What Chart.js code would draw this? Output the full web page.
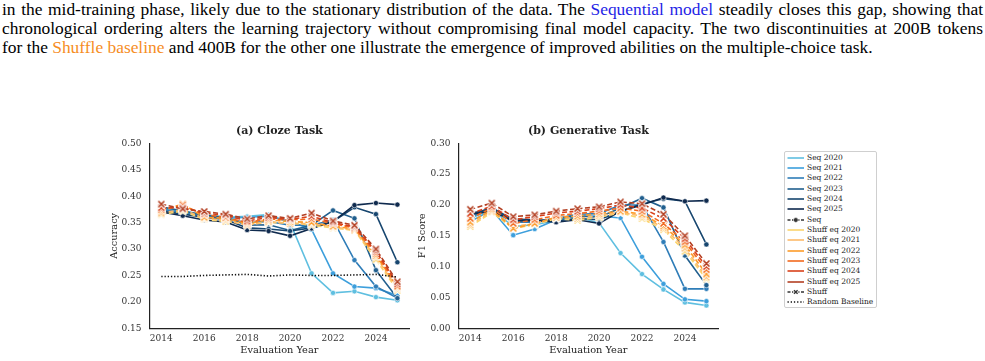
<!DOCTYPE html>
<html>
<head>
<meta charset="utf-8">
<script src="https://cdn.jsdelivr.net/npm/chart.js@4.4.0/dist/chart.umd.min.js"></script>
<style>
body { margin: 0; width: 985px; height: 361px; background: #fff; position: relative; overflow: hidden; }
.txt { position: absolute; left: 2px; font-family: 'Liberation Serif'; font-size: 17.4px; line-height: 19px; color: #000; white-space: nowrap; }
.blue { color: #1f1fe6; }
.orange { color: #f68d1f; }
.box { position: absolute; }
#legend { position: absolute; left: 784px; top: 151px; width: 91px; height: 155px; border: 1px solid #cfcfcf; border-radius: 2px; background: #fff; font-family: 'DejaVu Serif'; font-size: 7.5px; color: #222; }
#legend .row { position: absolute; left: 2px; height: 10px; white-space: nowrap; }
#legend svg { position: absolute; left: 0; top: 0; }
#legend span { position: absolute; left: 20px; top: 0; line-height: 10px; }
</style>
</head>
<body>
<div class="txt" id="l1" style="top:0px">in the mid-training phase, likely due to the stationary distribution of the data. The <span class="blue">Sequential model</span> steadily closes this gap, showing that</div>
<div class="txt" id="l2" style="top:19px">chronological ordering alters the learning trajectory without compromising final model capacity. The two discontinuities at 200B tokens</div>
<div class="txt" id="l3" style="top:38px">for the <span class="orange">Shuffle baseline</span> and 400B for the other one illustrate the emergence of improved abilities on the multiple-choice task.</div>

<div class="box" style="left:100px; top:118px;"><canvas id="clozeChart" width="320" height="243"></canvas></div>
<div class="box" style="left:400px; top:118px;"><canvas id="genChart" width="330" height="243"></canvas></div>
<div id="legend"></div>

<script>
const years = [2014, 2015, 2016, 2017, 2018, 2019, 2020, 2021, 2022, 2023, 2024, 2025]

const seqNames = ['Seq 2020', 'Seq 2021', 'Seq 2022', 'Seq 2023', 'Seq 2024', 'Seq 2025']
const shuffNames = ['Shuff eq 2020', 'Shuff eq 2021', 'Shuff eq 2022', 'Shuff eq 2023', 'Shuff eq 2024', 'Shuff eq 2025']
const seqColors = ['#5fbfe0', '#3d9fdc', '#2f7db8', '#215f8e', '#17466f', '#0f2a4e']
const shuffColors = ['#fbd46d', '#fdbb6b', '#fd9b2a', '#f26a1f', '#d8401a', '#b33f22']

// Cloze task accuracy
const clozeSeq20 = [0.378, 0.372, 0.365, 0.360, 0.362, 0.365, 0.350, 0.254, 0.217, 0.220, 0.209, 0.203]
const clozeSeq21 = [0.376, 0.370, 0.363, 0.358, 0.360, 0.362, 0.352, 0.337, 0.254, 0.229, 0.226, 0.212]
const clozeSeq22 = [0.375, 0.368, 0.362, 0.357, 0.350, 0.352, 0.345, 0.345, 0.355, 0.279, 0.229, 0.207]
const clozeSeq23 = [0.380, 0.372, 0.364, 0.360, 0.345, 0.346, 0.335, 0.345, 0.373, 0.358, 0.260, 0.207]
const clozeSeq24 = [0.372, 0.366, 0.360, 0.356, 0.340, 0.338, 0.334, 0.340, 0.352, 0.379, 0.366, 0.275]
const clozeSeq25 = [0.370, 0.363, 0.355, 0.351, 0.336, 0.334, 0.325, 0.339, 0.352, 0.383, 0.387, 0.384]
const clozeShuff20 = [0.365, 0.372, 0.356, 0.352, 0.348, 0.350, 0.350, 0.345, 0.340, 0.335, 0.280, 0.222]
const clozeShuff21 = [0.368, 0.375, 0.358, 0.355, 0.345, 0.352, 0.348, 0.348, 0.342, 0.336, 0.285, 0.225]
const clozeShuff22 = [0.372, 0.385, 0.360, 0.358, 0.348, 0.355, 0.352, 0.350, 0.343, 0.338, 0.288, 0.228]
const clozeShuff23 = [0.375, 0.383, 0.365, 0.360, 0.350, 0.357, 0.355, 0.357, 0.348, 0.340, 0.292, 0.230]
const clozeShuff24 = [0.378, 0.378, 0.368, 0.364, 0.353, 0.360, 0.356, 0.362, 0.350, 0.342, 0.296, 0.234]
const clozeShuff25 = [0.385, 0.376, 0.371, 0.366, 0.357, 0.363, 0.358, 0.368, 0.353, 0.345, 0.300, 0.238]
const clozeRandom = [0.248, 0.248, 0.250, 0.251, 0.252, 0.249, 0.251, 0.250, 0.250, 0.251, 0.252, 0.247]

// Generative task F1
const genSeq20 = [0.178, 0.193, 0.165, 0.168, 0.175, 0.180, 0.171, 0.122, 0.088, 0.063, 0.042, 0.037]
const genSeq21 = [0.173, 0.192, 0.151, 0.161, 0.176, 0.182, 0.182, 0.179, 0.116, 0.072, 0.047, 0.044]
const genSeq22 = [0.180, 0.195, 0.172, 0.172, 0.178, 0.185, 0.186, 0.200, 0.200, 0.140, 0.064, 0.064]
const genSeq23 = [0.183, 0.196, 0.175, 0.174, 0.178, 0.182, 0.180, 0.195, 0.211, 0.196, 0.118, 0.070]
const genSeq24 = [0.186, 0.194, 0.177, 0.176, 0.174, 0.178, 0.176, 0.190, 0.202, 0.210, 0.206, 0.136]
const genSeq25 = [0.185, 0.190, 0.174, 0.175, 0.172, 0.176, 0.170, 0.190, 0.200, 0.212, 0.206, 0.207]
const genShuff20 = [0.165, 0.188, 0.162, 0.168, 0.178, 0.175, 0.180, 0.187, 0.178, 0.160, 0.125, 0.080]
const genShuff21 = [0.168, 0.190, 0.165, 0.170, 0.180, 0.178, 0.183, 0.188, 0.182, 0.163, 0.130, 0.083]
const genShuff22 = [0.172, 0.192, 0.162, 0.170, 0.180, 0.182, 0.186, 0.190, 0.185, 0.166, 0.135, 0.088]
const genShuff23 = [0.178, 0.195, 0.170, 0.176, 0.183, 0.186, 0.190, 0.195, 0.190, 0.170, 0.140, 0.095]
const genShuff24 = [0.186, 0.198, 0.176, 0.181, 0.187, 0.190, 0.194, 0.200, 0.195, 0.178, 0.145, 0.100]
const genShuff25 = [0.193, 0.203, 0.181, 0.184, 0.190, 0.194, 0.197, 0.205, 0.202, 0.185, 0.150, 0.105]

const textColor = '#222'
const tickColor = '#333'

Chart.defaults.font.family = 'DejaVu Serif'

function xMarker(color) {
	var c = document.createElement('canvas')
	c.width = 9
	c.height = 9
	var g = c.getContext('2d')
	g.lineCap = 'round'
	function cross() {
		g.beginPath()
		g.moveTo(2, 2); g.lineTo(7, 7)
		g.moveTo(7, 2); g.lineTo(2, 7)
		g.stroke()
	}
	g.strokeStyle = '#fff'
	g.lineWidth = 3.4
	cross()
	g.strokeStyle = color
	g.lineWidth = 1.7
	cross()
	return c
}

function toPoints(values) {
	return values.map(function (v, i) { return { x: years[i], y: v } })
}

function seqDataset(label, color, values) {
	return {
		label: label,
		data: toPoints(values),
		borderColor: color,
		backgroundColor: color,
		borderWidth: 1.6,
		pointStyle: 'circle',
		pointRadius: 2.6,
		pointBackgroundColor: color,
		pointBorderColor: '#fff',
		pointBorderWidth: 0.6,
		tension: 0
	}
}

function shuffDataset(label, color, values) {
	return {
		label: label,
		data: toPoints(values),
		borderColor: color,
		backgroundColor: color,
		borderWidth: 1.6,
		borderDash: [5, 2.5],
		pointStyle: xMarker(color),
		pointRadius: 4,
		tension: 0
	}
}

function buildDatasets(seqValues, shuffValues, random) {
	var sets = []
	for (var i = 0; i < seqValues.length; i++) sets.push(seqDataset(seqNames[i], seqColors[i], seqValues[i]))
	for (var j = 0; j < shuffValues.length; j++) sets.push(shuffDataset(shuffNames[j], shuffColors[j], shuffValues[j]))
	if (random) {
		sets.push({
			label: 'Random Baseline',
			data: toPoints(random),
			borderColor: '#111',
			borderWidth: 1.6,
			borderDash: [1.3, 1.9],
			borderCapStyle: 'butt',
			pointRadius: 0,
			tension: 0
		})
	}
	sets.forEach(function (s, k) { s.order = 20 - k })
	return sets
}

function makeOptions(cfg) {
	return {
		responsive: false,
		animation: false,
		layout: { padding: { left: 0, right: cfg.padRight, top: 0, bottom: 0 } },
		plugins: {
			legend: { display: false },
			tooltip: { enabled: false },
			title: {
				display: true,
				text: cfg.title,
				fullSize: false,
				color: textColor,
				font: { size: 11, weight: 'bold' },
				padding: { top: 6.4, bottom: 5.7 }
			}
		},
		scales: {
			x: {
				type: 'linear',
				min: 2013.45,
				max: 2025.55,
				grid: { display: false, drawTicks: false },
				border: { display: true, color: textColor, width: 1.2 },
				ticks: {
					stepSize: 2,
					includeBounds: false,
					autoSkip: false,
					maxRotation: 0,
					padding: 4.6,
					color: tickColor,
					font: { size: 9 },
					callback: function (v) { return String(v) }
				},
				title: { display: true, text: 'Evaluation Year', color: textColor, font: { size: 9.8 }, padding: { top: 1, bottom: 5.1 } },
				afterFit: function (s) { s.height = 32.7 }
			},
			y: {
				min: cfg.yMin,
				max: cfg.yMax,
				grid: { display: false, drawTicks: false },
				border: { display: true, color: textColor, width: 1.2 },
				ticks: {
					stepSize: 0.05,
					padding: 8,
					color: tickColor,
					font: { size: 9 },
					callback: function (v) { return v.toFixed(2) }
				},
				title: { display: true, text: cfg.yTitle, color: textColor, font: { size: 9.8 }, padding: { top: cfg.yTitlePad } },
				afterFit: function (s) { s.width = cfg.yWidth }
			}
		}
	}
}

var clozeChart = new Chart(document.getElementById('clozeChart'), {
	type: 'line',
	data: {
		datasets: buildDatasets(
			[clozeSeq20, clozeSeq21, clozeSeq22, clozeSeq23, clozeSeq24, clozeSeq25],
			[clozeShuff20, clozeShuff21, clozeShuff22, clozeShuff23, clozeShuff24, clozeShuff25],
			clozeRandom)
	},
	options: makeOptions({ title: '(a) Cloze Task', yTitle: 'Accuracy', yMin: 0.15, yMax: 0.50, yWidth: 49.5, yTitlePad: 8.1, padRight: 10.8 })
})

var genChart = new Chart(document.getElementById('genChart'), {
	type: 'line',
	data: {
		datasets: buildDatasets(
			[genSeq20, genSeq21, genSeq22, genSeq23, genSeq24, genSeq25],
			[genShuff20, genShuff21, genShuff22, genShuff23, genShuff24, genShuff25],
			null)
	},
	options: makeOptions({ title: '(b) Generative Task', yTitle: 'F1 Score', yMin: 0, yMax: 0.30, yWidth: 58.5, yTitlePad: 16.8, padRight: 11.8 })
})

// legend, built from the same names and colours
function sampleSvg(color, dash, marker) {
	var s = '<svg width="18" height="10">'
	s += '<line x1="0.5" y1="5" x2="17" y2="5" stroke="' + color + '" stroke-width="1.6"' + (dash ? ' stroke-dasharray="' + dash + '"' : '') + '/>'
	if (marker === 'o') s += '<circle cx="8.8" cy="5" r="2.4" fill="' + color + '" stroke="#fff" stroke-width="0.6"/>'
	if (marker === 'x') s += '<path d="M7 3.2 L10.6 6.8 M10.6 3.2 L7 6.8" stroke="#fff" stroke-width="3"/><path d="M7 3.2 L10.6 6.8 M10.6 3.2 L7 6.8" stroke="' + color + '" stroke-width="1.4"/>'
	return s + '</svg>'
}

var legendRows = []
seqNames.forEach(function (n, i) { legendRows.push([n, sampleSvg(seqColors[i], null, null)]) })
legendRows.push(['Seq', sampleSvg('#333', '3,1.5', 'o')])
shuffNames.forEach(function (n, i) { legendRows.push([n, sampleSvg(shuffColors[i], null, null)]) })
legendRows.push(['Shuff', sampleSvg('#333', '3,1.5', 'x')])
legendRows.push(['Random Baseline', sampleSvg('#111', '1.3,1.9', null)])

var legend = document.getElementById('legend')
legendRows.forEach(function (r, i) {
	var row = document.createElement('div')
	row.className = 'row'
	row.style.top = (0.5 + i * 10.35) + 'px'
	row.innerHTML = r[1] + '<span>' + r[0] + '</span>'
	legend.appendChild(row)
})

// justify the first two text lines to the full width
function justify(id, width) {
	var el = document.getElementById(id)
	var natural = el.getBoundingClientRect().width
	var spaces = el.textContent.split(' ').length - 1
	el.style.wordSpacing = ((width - natural) / spaces) + 'px'
}
justify('l1', 981)
justify('l2', 981)
</script>
</body>
</html>
